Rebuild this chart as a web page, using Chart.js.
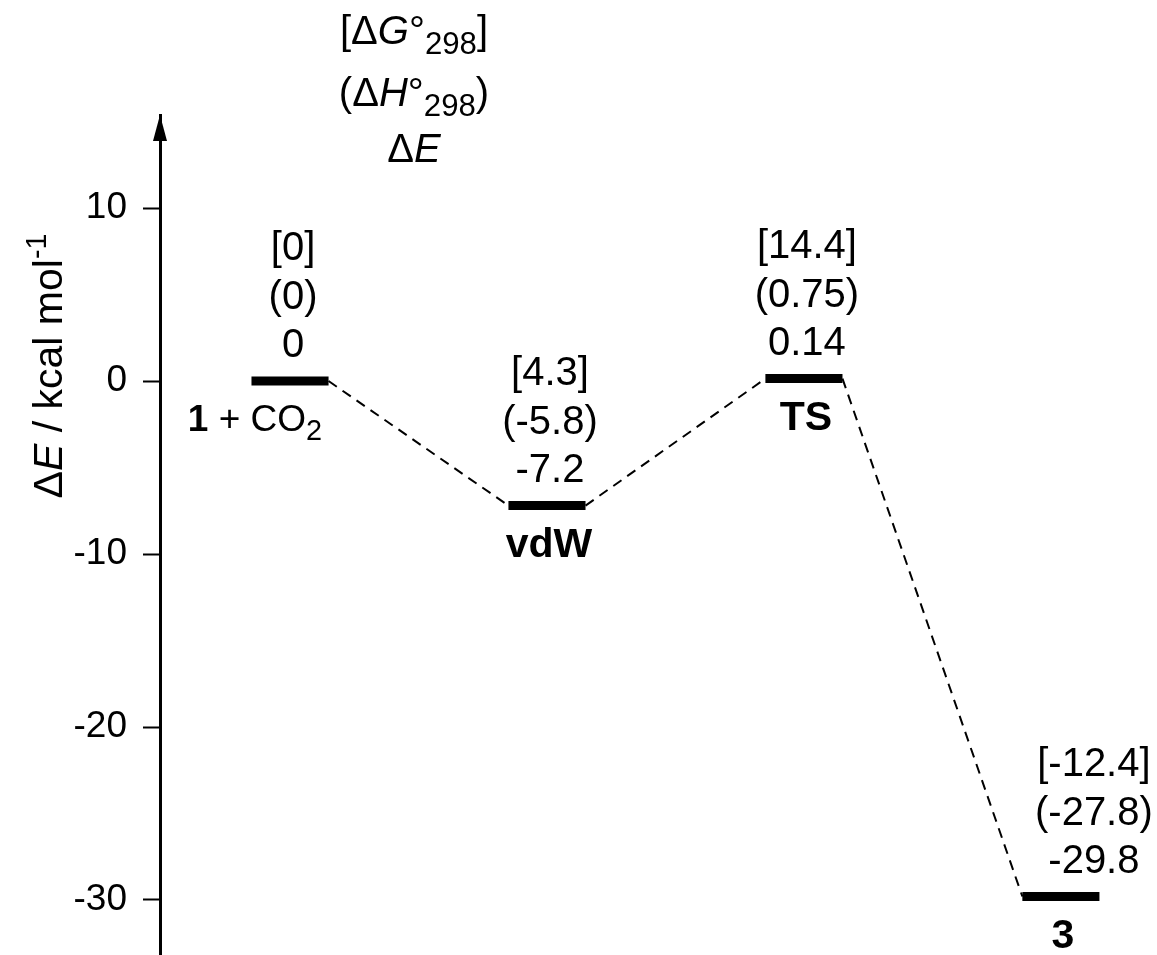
<!DOCTYPE html>
<html>
<head>
<meta charset="utf-8">
<script src="https://cdn.jsdelivr.net/npm/chart.js@4.4.1/dist/chart.umd.min.js"></script>
<style>
  html, body { margin: 0; padding: 0; background: #ffffff; }
  #wrap { position: relative; width: 1157px; height: 955px; }
</style>
</head>
<body>
<div id="wrap"><canvas id="c" width="1157" height="955"></canvas></div>
<script>
// ---- data ----
const categories = ['1 + CO2', 'vdW', 'TS', '3'];
const deltaE = [0, -7.2, 0.14, -29.8];
const deltaH = [0, -5.8, 0.75, -27.8];
const deltaG = [0, 4.3, 14.4, -12.4];
const yTicks = [10, 0, -10, -20, -30];

const FONT = '"Liberation Sans", Arial, Helvetica, sans-serif';
const HALF = 0.15; // half width of a level bar, in x units

// datasets: level bars and dashed connectors
const datasets = [];
categories.forEach((c, i) => {
  datasets.push({
    label: c,
    data: [{ x: i - HALF, y: deltaE[i] }, { x: i + HALF, y: deltaE[i] }],
    borderColor: '#000', borderWidth: 9, borderCapStyle: 'butt',
    pointRadius: 0, fill: false
  });
});
for (let i = 0; i < categories.length - 1; i++) {
  datasets.push({
    label: 'link' + i,
    data: [{ x: i + HALF, y: deltaE[i] }, { x: i + 1 - HALF, y: deltaE[i + 1] }],
    borderColor: '#000', borderWidth: 2, borderDash: [10, 7],
    pointRadius: 0, fill: false
  });
}

function drawRich(ctx, segs, cx, cy, size, subScale) {
  const ss = subScale || 0.78;
  const parts = segs.map(s => {
    const fs = (s.sub || s.sup) ? size * ss : size;
    const font = (s.i ? 'italic ' : '') + (s.b ? 'bold ' : '') + fs + 'px ' + FONT;
    ctx.font = font;
    return Object.assign({}, s, { font, w: ctx.measureText(s.t).width });
  });
  const total = parts.reduce((a, p) => a + p.w, 0);
  let x = cx - total / 2;
  const base = cy + size * 0.716 / 2;
  ctx.textAlign = 'left';
  ctx.textBaseline = 'alphabetic';
  ctx.fillStyle = '#000';
  parts.forEach(p => {
    ctx.font = p.font;
    const dy = p.sub ? size * 0.24 : (p.sup ? -size * 0.38 : 0);
    ctx.fillText(p.t, x, base + dy);
    x += p.w;
  });
}

function nameSegs(name) {
  // first token (compound number / species) bold, digits after letters subscript
  const m = name.match(/^(\S+)(.*)$/);
  const segs = [{ t: m[1], b: true }];
  const rest = m[2];
  if (rest) {
    rest.split(/(?<=[A-Za-z])(\d+)/).forEach((t, k) => {
      if (t) segs.push(k % 2 === 1 ? { t, sub: true } : { t });
    });
  }
  return segs;
}

const annotate = {
  id: 'annotate',
  afterDraw(chart) {
    const ctx = chart.ctx;
    const xs = chart.scales.x, ys = chart.scales.y;
    ctx.save();
    // axis arrow head
    const ax = ys.right, top = chart.chartArea.top;
    ctx.fillStyle = '#000';
    ctx.beginPath();
    ctx.moveTo(ax, top);
    ctx.lineTo(ax - 7, top + 26);
    ctx.lineTo(ax + 7, top + 26);
    ctx.closePath();
    ctx.fill();

    // header legend of the three quantities
    const hx = 414;
    drawRich(ctx, [{ t: '[Δ' }, { t: 'G', i: true }, { t: '°' }, { t: '298', sub: true }, { t: ']' }], hx, 30, 40);
    drawRich(ctx, [{ t: '(Δ' }, { t: 'H', i: true }, { t: '°' }, { t: '298', sub: true }, { t: ')' }], hx, 92, 40);
    drawRich(ctx, [{ t: 'Δ' }, { t: 'E', i: true }], hx, 148, 40);

    // y axis title
    ctx.save();
    ctx.translate(47, 366);
    ctx.rotate(-Math.PI / 2);
    drawRich(ctx, [{ t: 'Δ' }, { t: 'E', i: true }, { t: ' / kcal mol' }, { t: '-1', sup: true }], 0, 0, 41, 0.7);
    ctx.restore();

    // value labels and species names
    categories.forEach((c, i) => {
      const px = xs.getPixelForValue(i) + (i === categories.length - 1 ? 33 : 3);
      const py = ys.getPixelForValue(deltaE[i]);
      drawRich(ctx, [{ t: '[' + deltaG[i] + ']' }], px, py - 135, 40);
      drawRich(ctx, [{ t: '(' + deltaH[i] + ')' }], px, py - 86, 40);
      drawRich(ctx, [{ t: String(deltaE[i]) }], px, py - 38, 40);
      const nx = xs.getPixelForValue(i) + (i === 0 ? -35 : 2);
      drawRich(ctx, nameSegs(c), nx, py + 37, i === 0 ? 37 : 41);
    });
    ctx.restore();
  }
};

new Chart(document.getElementById('c'), {
  type: 'line',
  data: { datasets },
  options: {
    responsive: false,
    animation: false,
    events: [],
    layout: { padding: { top: 115, left: 0, right: 0, bottom: 0 } },
    plugins: { legend: { display: false }, tooltip: { enabled: false }, title: { display: false } },
    scales: {
      x: {
        type: 'linear', display: false, min: -0.506, max: 3.374
      },
      y: {
        type: 'linear', min: -33.18, max: 15.38,
        afterFit(scale) { scale.width = 160; scale.paddingTop = 0; scale.paddingBottom = 0; },
        afterBuildTicks(scale) { scale.ticks = yTicks.map(v => ({ value: v })); },
        border: { display: true, color: '#000', width: 3 },
        grid: { drawOnChartArea: false, drawTicks: true, tickLength: 17, tickColor: '#000', tickWidth: 2 },
        ticks: {
          color: '#000', padding: 16,
          font: { family: FONT, size: 37 },
          callback: v => String(v)
        }
      }
    }
  },
  plugins: [annotate]
});
</script>
</body>
</html>
